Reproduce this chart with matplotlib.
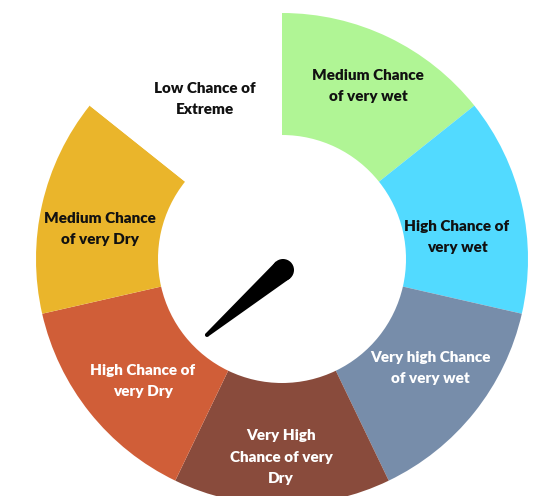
import matplotlib
matplotlib.use("Agg")
import matplotlib.pyplot as plt
from matplotlib.patches import Wedge, Polygon, Circle
import numpy as np

# ---- data ----
labels = ["Medium Chance\nof very wet", "High Chance of\nvery wet", "Very high Chance\nof very wet",
          "Very High\nChance of very\nDry", "High Chance of\nvery Dry", "Medium Chance\nof very Dry",
          "Low Chance of\nExtreme"]
values = [1, 1, 1, 1, 1, 1, 1]
colors = ["#B0F595", "#52DAFF", "#778DAA", "#894B3C", "#D05E38", "#EAB52B", "#FFFFFF"]
text_colors = ["#111111", "#111111", "#FFFFFF", "#FFFFFF", "#FFFFFF", "#111111", "#111111"]
needle_angle = 220.5  # degrees, counter-clockwise from +x

# label centre positions (pixels from top-left) - layout only
label_pos = [(368, 86), (457, 237), (430, 368), (281, 457), (143, 381), (100, 229), (205, 99)]

plt.rcParams['font.family'] = ['Lato', 'DejaVu Sans']

W, H = 540, 496
fig = plt.figure(figsize=(W / 100, H / 100), dpi=100)
ax = fig.add_axes([0, 0, 1, 1])
ax.set_xlim(0, W)
ax.set_ylim(0, H)
ax.axis('off')

cx, cy = 282, H - 259
r_out, r_in = 246, 124
total = sum(values)
start = 90.0
for lab, v, c, tc, (lx, ly) in zip(labels, values, colors, text_colors, label_pos):
    span = 360.0 * v / total
    t2 = start
    t1 = start - span
    ax.add_patch(Wedge((cx, cy), r_out, t1, t2, width=r_out - r_in, facecolor=c, edgecolor='none'))
    ax.text(lx, H - ly, lab, ha='center', va='center',
            color=tc, fontsize=11, fontweight='heavy', linespacing=1.8)
    start = t1

# needle
px, py = 283, H - 270
L = 100
a = np.deg2rad(needle_angle)
d = np.array([np.cos(a), np.sin(a)])
n = np.array([-d[1], d[0]])
base = np.array([px, py])
tip = base + L * d
wb, wt = 11, 2
poly = [base + n * wb, tip + n * wt, tip - n * wt, base - n * wb]
ax.add_patch(Polygon(poly, closed=True, facecolor='black', edgecolor='none'))
ax.add_patch(Circle(base, wb, facecolor='black', edgecolor='none'))
ax.add_patch(Circle(tip, wt, facecolor='black', edgecolor='none'))

fig.savefig("out.png", dpi=100, facecolor='white')
